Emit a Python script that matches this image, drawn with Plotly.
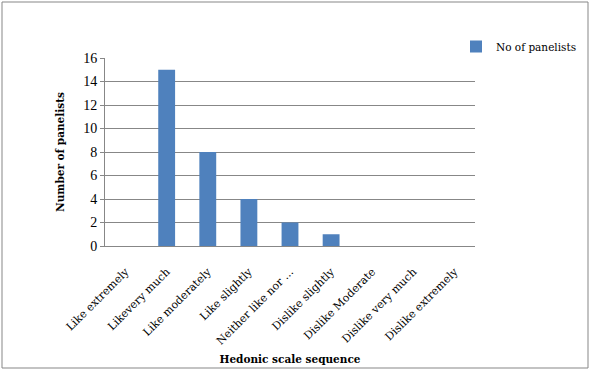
import plotly.graph_objects as go

categories = ["Like extremely", "Likevery much", "Like moderately", "Like slightly",
              "Neither like nor ...", "Dislike slightly", "Dislike Moderate",
              "Dislike very much", "Dislike extremely"]
values = [0, 15, 8, 4, 2, 1, 0, 0, 0]
series_name = "No of panelists"
y_ticks = [0, 2, 4, 6, 8, 10, 12, 14, 16]

FONT = "DejaVu Serif"
GRID = "#878787"

fig = go.Figure(go.Bar(x=categories, y=values, name=series_name,
                       marker=dict(color="#4F81BD", line=dict(width=0)),
                       showlegend=True))

L, R, T, B = 105, 119, 58, 126
W, H = 594, 372
pw, ph = W - L - R, H - T - B

fig.update_layout(
    width=W, height=H,
    margin=dict(l=L, r=R, t=T, b=B, autoexpand=False),
    paper_bgcolor="white", plot_bgcolor="white",
    font=dict(family=FONT, size=11, color="black"),
    bargap=0.59,
    showlegend=True,
    legend=dict(x=(456 - L) / pw, y=(H - B - 32) / ph, xanchor="left", yanchor="top",
                font=dict(family=FONT, size=10.5), bgcolor="rgba(0,0,0,0)",
                itemwidth=30),
    xaxis=dict(tickangle=-45, showgrid=False, ticks="", showline=True,
               linecolor=GRID, linewidth=1, tickfont=dict(family=FONT, size=11),
               ticklabelstandoff=14,
               title=dict(text="<b>Hedonic scale sequence</b>", standoff=9,
                          font=dict(family=FONT, size=10.5))),
    yaxis=dict(range=[0, 16], tickvals=y_ticks, showgrid=True, gridcolor=GRID,
               gridwidth=1, zeroline=False, showline=True, linecolor=GRID,
               ticks="outside", ticklen=4, tickcolor=GRID,
               tickfont=dict(family="Liberation Serif", size=14),
               title=dict(text="<b>Number of panelists</b>", standoff=16,
                          font=dict(family=FONT, size=10.5))),
    shapes=[dict(type="rect", xref="paper", yref="paper",
                 x0=(2 - L) / pw, x1=(588 - L) / pw,
                 y0=(H - B - 368) / ph, y1=(H - B - 2) / ph,
                 line=dict(color="#878787", width=1), fillcolor="rgba(0,0,0,0)",
                 layer="below")],
)

fig.write_html("out.html", config={"displayModeBar": False},
               post_script="document.body.style.margin='0';document.body.style.overflow='hidden';")
